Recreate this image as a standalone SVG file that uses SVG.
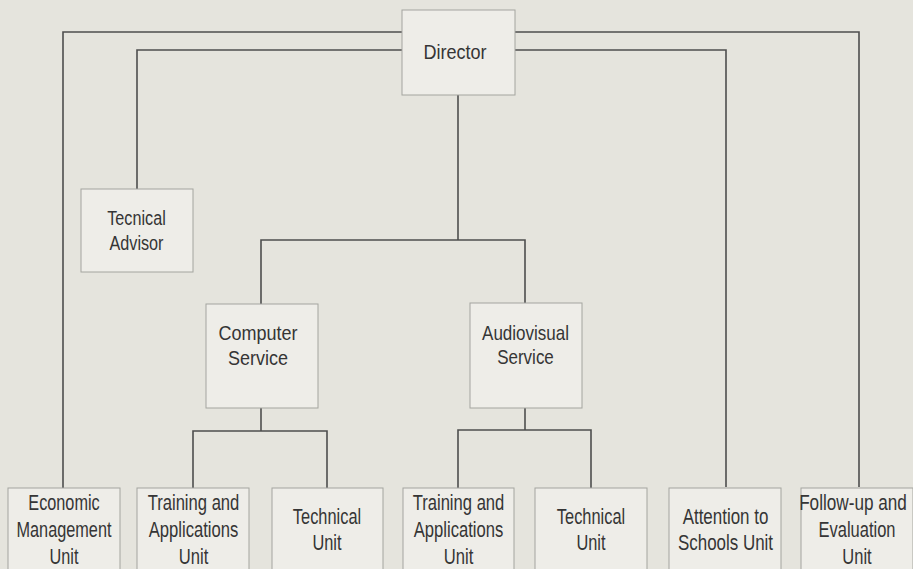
<svg xmlns="http://www.w3.org/2000/svg" width="913" height="569" viewBox="0 0 913 569">
<style>
.box { fill: #eeede8; stroke: #a4a49f; stroke-width: 1; }
.lbl { font-family: "Liberation Sans", Arial, Helvetica, sans-serif; font-size: 22px; fill: #353535; text-anchor: middle; }
.md { font-size: 20px; }
.dr { font-size: 21px; }
.conn { fill: none; stroke: #4e4e4e; stroke-width: 1.6; }
</style>
<rect x="0" y="0" width="913" height="569" fill="#e5e4dd"/>
<g id="connectors">
<path class="conn" d="M402 32 H63 V488"/>
<path class="conn" d="M402 50 H137 V189"/>
<path class="conn" d="M515 32 H859 V487"/>
<path class="conn" d="M515 50 H726 V487"/>
<path class="conn" d="M458 95 V240"/>
<path class="conn" d="M261 304 V240 H525 V303"/>
<path class="conn" d="M261 408 V431"/>
<path class="conn" d="M193 488 V431 H327 V488"/>
<path class="conn" d="M525 408 V430"/>
<path class="conn" d="M458 488 V430 H591 V488"/>
</g>
<g id="director">
<rect class="box" x="402" y="10" width="113" height="85"/>
<g transform="translate(455 0) scale(0.86 1)"><text class="lbl dr" x="0" y="59">Director</text></g>
</g>
<g id="tecnical-advisor">
<rect class="box" x="81" y="189" width="112" height="83"/>
<g transform="translate(136.5 0) scale(0.81 1)">
<text class="lbl md" x="0" y="225">Tecnical</text>
<text class="lbl md" x="0" y="250">Advisor</text>
</g>
</g>
<g id="computer-service">
<rect class="box" x="206" y="304" width="112" height="104"/>
<g transform="translate(258 0) scale(0.9 1)">
<text class="lbl md" x="0" y="340">Computer</text>
<text class="lbl md" x="0" y="365">Service</text>
</g>
</g>
<g id="audiovisual-service">
<rect class="box" x="470" y="303" width="112" height="105"/>
<g transform="translate(525.5 0) scale(0.85 1)">
<text class="lbl md" x="0" y="340">Audiovisual</text>
<text class="lbl md" x="0" y="364">Service</text>
</g>
</g>
<g id="economic-management-unit">
<rect class="box" x="8" y="488" width="112" height="95"/>
<g transform="translate(64 0) scale(0.74 1)">
<text class="lbl" x="0" y="510">Economic</text>
<text class="lbl" x="0" y="537">Management</text>
<text class="lbl" x="0" y="564">Unit</text>
</g>
</g>
<g id="training-applications-unit-1">
<rect class="box" x="137" y="488" width="112" height="95"/>
<g transform="translate(193.5 0) scale(0.755 1)">
<text class="lbl" x="0" y="510">Training and</text>
<text class="lbl" x="0" y="537">Applications</text>
<text class="lbl" x="0" y="564">Unit</text>
</g>
</g>
<g id="technical-unit-1">
<rect class="box" x="272" y="488" width="111" height="95"/>
<g transform="translate(327 0) scale(0.745 1)">
<text class="lbl" x="0" y="524">Technical</text>
<text class="lbl" x="0" y="550">Unit</text>
</g>
</g>
<g id="training-applications-unit-2">
<rect class="box" x="403" y="488" width="111" height="95"/>
<g transform="translate(458.5 0) scale(0.755 1)">
<text class="lbl" x="0" y="510">Training and</text>
<text class="lbl" x="0" y="537">Applications</text>
<text class="lbl" x="0" y="564">Unit</text>
</g>
</g>
<g id="technical-unit-2">
<rect class="box" x="535" y="488" width="112" height="95"/>
<g transform="translate(591 0) scale(0.745 1)">
<text class="lbl" x="0" y="524">Technical</text>
<text class="lbl" x="0" y="550">Unit</text>
</g>
</g>
<g id="attention-to-schools-unit">
<rect class="box" x="669" y="488" width="112" height="95"/>
<g transform="translate(725.5 0) scale(0.77 1)">
<text class="lbl" x="0" y="524">Attention to</text>
<text class="lbl" x="0" y="550">Schools Unit</text>
</g>
</g>
<g id="follow-up-evaluation-unit">
<rect class="box" x="801" y="488" width="112" height="95"/>
<g transform="translate(853 0) scale(0.78 1)">
<text class="lbl" x="0" y="510">Follow-up and</text>
</g>
<g transform="translate(857 0) scale(0.75 1)">
<text class="lbl" x="0" y="537">Evaluation</text>
<text class="lbl" x="0" y="564">Unit</text>
</g>
</g>
</svg>
